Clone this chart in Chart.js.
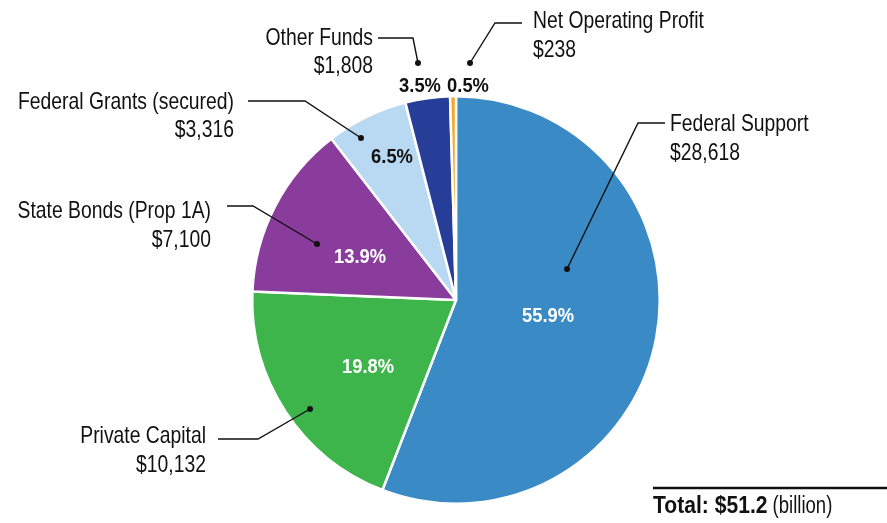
<!DOCTYPE html>
<html><head><meta charset="utf-8">
<script src="https://cdn.jsdelivr.net/npm/chart.js@4.4.0/dist/chart.umd.min.js"></script>
<style>html,body{margin:0;padding:0;background:#fff;}#wrap{width:887px;height:523px;position:relative;overflow:hidden}</style>
</head><body><div id="wrap"><canvas id="c" width="887" height="523"></canvas></div>
<script>
// ---- data ----
const categories = ['Federal Support', 'Private Capital', 'State Bonds (Prop 1A)', 'Federal Grants (secured)', 'Other Funds', 'Net Operating Profit'];
const values = [28618, 10132, 7100, 3316, 1808, 238];
const valueLabels = ['$28,618', '$10,132', '$7,100', '$3,316', '$1,808', '$238'];
const percentLabels = ['55.9%', '19.8%', '13.9%', '6.5%', '3.5%', '0.5%'];
const totalLabel = '$51.2';
const totalUnit = '(billion)';

// ---- styles / layout (annotation placement, relative to pie centre 456,300 in reference) ----
const colors = ['#3a8ac5', '#3db54a', '#8a3c9d', '#b9d8f1', '#263e97', '#f6a62b'];
const FONT = '"Liberation Sans", Arial, sans-serif';
const REF_CX = 456, REF_CY = 300;
const labelLayout = [
  {align:'left',  x:670, y1:131, y2:160, leader:[[665,123],[638,123],[567,269]], px:548, py:316, pc:'#fff'},
  {align:'right', x:206, y1:443, y2:472, leader:[[218,439],[258,439],[310,409]], px:368, py:367, pc:'#fff'},
  {align:'right', x:211, y1:218, y2:247, leader:[[227,206],[253,206],[317,244]], px:360, py:257, pc:'#fff'},
  {align:'right', x:234, y1:109, y2:137, leader:[[248,101],[305,101],[361,138]], px:392, py:157, pc:'#111'},
  {align:'right', x:373, y1:45,  y2:73,  leader:[[378,38],[413,38],[418,63]],    px:420, py:86,  pc:'#111'},
  {align:'left',  x:533, y1:28,  y2:57,  leader:[[522,23],[495,23],[470,63]],    px:468, py:86,  pc:'#111'}
];

function scaledText(ctx, text, x, y, align, sx) {
  ctx.save();
  ctx.translate(x, y);
  ctx.scale(sx, 1);
  ctx.textAlign = align;
  ctx.fillText(text, 0, 0);
  ctx.restore();
}

const labelPlugin = {
  id: 'labels',
  afterDraw(chart) {
    const ctx = chart.ctx;
    const arc = chart.getDatasetMeta(0).data[0];
    const ox = arc.x - REF_CX, oy = arc.y - REF_CY;
    ctx.save();
    ctx.font = '24px ' + FONT;
    const sxN = 216 / ctx.measureText('Federal Grants (secured)').width;
    ctx.font = 'bold 20px ' + FONT;
    const sxB = 52 / ctx.measureText('55.9%').width;
    labelLayout.forEach((L, i) => {
      ctx.strokeStyle = '#111'; ctx.lineWidth = 1.4;
      ctx.beginPath();
      L.leader.forEach((p, k) => { if (k === 0) ctx.moveTo(p[0]+ox, p[1]+oy); else ctx.lineTo(p[0]+ox, p[1]+oy); });
      ctx.stroke();
      const d = L.leader[L.leader.length-1];
      ctx.fillStyle = '#111';
      ctx.beginPath(); ctx.arc(d[0]+ox, d[1]+oy, 3, 0, Math.PI*2); ctx.fill();
      ctx.font = '24px ' + FONT;
      ctx.textBaseline = 'alphabetic';
      ctx.fillStyle = '#111';
      scaledText(ctx, categories[i], L.x+ox, L.y1+oy, L.align, sxN);
      scaledText(ctx, valueLabels[i], L.x+ox, L.y2+oy, L.align, sxN);
      ctx.font = 'bold 20px ' + FONT;
      ctx.textBaseline = 'middle';
      ctx.fillStyle = L.pc;
      scaledText(ctx, percentLabels[i], L.px+ox, L.py+oy, 'center', sxB);
    });
    ctx.strokeStyle = '#111'; ctx.lineWidth = 2.5;
    ctx.beginPath(); ctx.moveTo(653, 488); ctx.lineTo(887, 488); ctx.stroke();
    ctx.textBaseline = 'alphabetic'; ctx.fillStyle = '#111';
    ctx.font = 'bold 23px ' + FONT;
    const t1 = 'Total: ' + totalLabel;
    scaledText(ctx, t1, 653, 513, 'left', sxB);
    const w1 = ctx.measureText(t1).width * sxB;
    ctx.font = '23px ' + FONT;
    const w2 = ctx.measureText(' ').width * sxN;
    scaledText(ctx, totalUnit, 653 + w1 + w2, 513, 'left', sxN);
    ctx.restore();
  }
};

new Chart(document.getElementById('c'), {
  type: 'pie',
  data: { labels: categories, datasets: [{ data: values, backgroundColor: colors, borderColor: '#ffffff', borderWidth: 2.5 }] },
  options: {
    responsive: false, animation: false,
    layout: { padding: { left: 251, right: 226, top: 95, bottom: 18 } },
    plugins: { legend: { display: false }, tooltip: { enabled: false } }
  },
  plugins: [labelPlugin]
});
</script></body></html>
